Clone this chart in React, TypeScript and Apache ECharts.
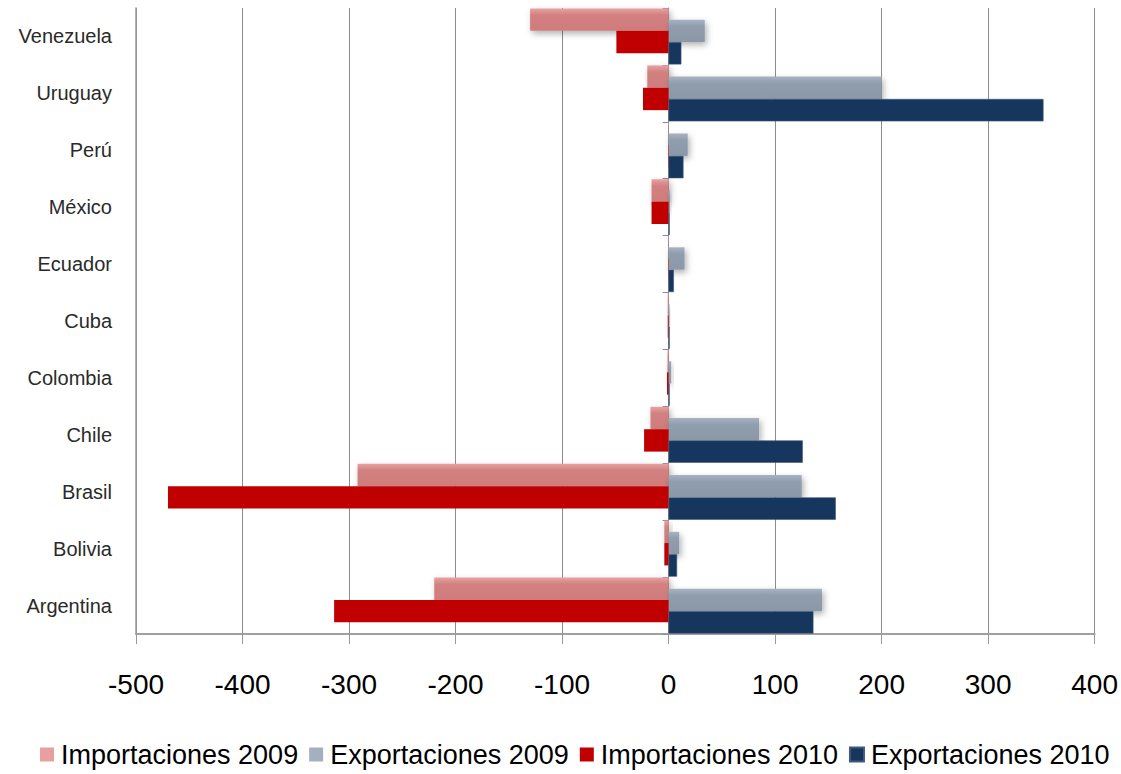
import React, { useEffect, useRef } from 'react';
import * as echarts from 'echarts';

const categories = ['Argentina', 'Bolivia', 'Brasil', 'Chile', 'Colombia', 'Cuba', 'Ecuador', 'México', 'Perú', 'Uruguay', 'Venezuela'];
const imp2009 = [-220, -4, -292, -17, -1, -0.8, -0.3, -16, -0.3, -20, -130];
const exp2009 = [144, 10, 125, 85, 2.5, 1, 15, 1.5, 18, 200, 34];
const imp2010 = [-314, -4, -470, -23, -1.5, -0.8, -0.3, -16, -0.3, -24, -49];
const exp2010 = [136, 8, 157, 126, 1, 1, 5, 1, 14, 352, 12];
const xTicks = { min: -500, max: 400, interval: 100 };

const FONT = "'Liberation Sans', Arial, sans-serif";

export default function App() {
  const ref = useRef<HTMLDivElement>(null);
  useEffect(() => {
    const chart = echarts.init(ref.current!, null, { renderer: 'svg' });
    const grad = (c0: string, c1: string, c2: string) =>
      new echarts.graphic.LinearGradient(0, 0, 0, 1, [
        { offset: 0, color: c0 },
        { offset: 0.3, color: c1 },
        { offset: 1, color: c2 },
      ]);
    const shadow = {
      shadowBlur: 6,
      shadowColor: 'rgba(0,0,0,0.3)',
      shadowOffsetX: 2,
      shadowOffsetY: 3,
    };
    chart.setOption({
      animation: false,
      backgroundColor: '#ffffff',
      grid: { left: 136, right: 21, top: 8, bottom: 140, containLabel: false },
      legend: {
        top: 741,
        left: 40,
        padding: 0,
        itemWidth: 14,
        itemHeight: 14,
        itemGap: 11,
        icon: 'rect',
        textStyle: { fontSize: 27, color: '#000', fontFamily: FONT, padding: [0, 0, 0, 2] },
        data: [
          { name: 'Importaciones 2009', itemStyle: { color: '#e6a0a0' } },
          { name: 'Exportaciones 2009', itemStyle: { color: '#a5b0bf' } },
          { name: 'Importaciones 2010', itemStyle: { color: '#c00000' } },
          { name: 'Exportaciones 2010', itemStyle: { color: '#17365d' } },
        ],
      },
      xAxis: {
        type: 'value',
        min: xTicks.min,
        max: xTicks.max,
        interval: xTicks.interval,
        axisLine: { show: true, onZero: false, lineStyle: { color: '#a0a0a0', width: 2 } },
        axisTick: { show: true, length: 10, lineStyle: { color: '#999' } },
        axisLabel: { fontSize: 28, color: '#000', fontFamily: FONT, margin: 36 },
        splitLine: { show: true, lineStyle: { color: '#8c8c8c', width: 1 } },
      },
      yAxis: [
        {
          type: 'category',
          data: categories,
          position: 'left',
          axisLine: { show: true, onZero: false, lineStyle: { color: '#9a9a9a', width: 1.5 } },
          axisTick: { show: false },
          axisLabel: { fontSize: 20, color: '#2a2a2a', fontFamily: FONT, margin: 24 },
          splitLine: { show: false },
        },
        {
          type: 'category',
          data: categories,
          position: 'left',
          axisLine: { show: true, onZero: true, lineStyle: { color: '#8c8c8c', width: 1 } },
          axisTick: { show: true, length: 6, lineStyle: { color: '#8c8c8c' } },
          axisLabel: { show: false },
          splitLine: { show: false },
        },
      ],
      series: [
        {
          name: 'Importaciones 2009',
          type: 'bar',
          yAxisIndex: 0,
          data: imp2009,
          barWidth: 22.4,
          barGap: '-50%',
          itemStyle: { color: grad('#e8a2a2', '#d28080', '#cf7c7c'), ...shadow },
        },
        {
          name: 'Exportaciones 2009',
          type: 'bar',
          yAxisIndex: 0,
          data: exp2009,
          barWidth: 22.4,
          barGap: '-50%',
          itemStyle: { color: grad('#a8b3c1', '#909dad', '#8b98a8'), ...shadow },
        },
        {
          name: 'Importaciones 2010',
          type: 'bar',
          yAxisIndex: 0,
          data: imp2010,
          barWidth: 22.4,
          barGap: '-50%',
          itemStyle: { color: '#c00000' },
        },
        {
          name: 'Exportaciones 2010',
          type: 'bar',
          yAxisIndex: 0,
          data: exp2010,
          barWidth: 22.4,
          barGap: '-50%',
          itemStyle: { color: '#17365d', borderColor: '#3e5a7e', borderWidth: 0.6 },
        },
      ],
    });
    return () => chart.dispose();
  }, []);
  return (
    <div
      ref={ref}
      style={{ position: 'absolute', left: 0, top: 0, width: 1121, height: 774, background: '#fff' }}
    />
  );
}
